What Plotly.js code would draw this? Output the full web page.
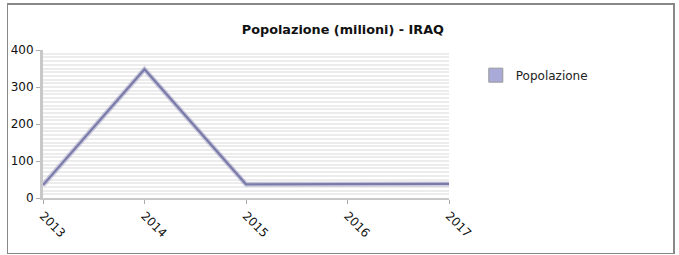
<!DOCTYPE html>
<html><head><meta charset="utf-8">
<script src="https://cdn.plot.ly/plotly-3.0.1.min.js"></script>
<style>
html,body{margin:0;padding:0;background:#fff;}
#wrap{position:relative;width:679px;height:255px;}
#chart{position:absolute;left:0;top:0;width:679px;height:255px;}
#frame{position:absolute;left:7px;top:3px;width:665px;height:248px;border:1px solid #888;border-right-width:2px;border-top-width:2px;pointer-events:none;}
</style></head>
<body><div id="wrap"><div id="chart"></div><div id="frame"></div></div>
<script>
const years = ['2013','2014','2015','2016','2017'];
const popolazione = [35, 348, 37, 37, 38];
const seriesName = 'Popolazione';
const titleText = 'Popolazione (milioni) - IRAQ';

const traces = [
  {x: years, y: popolazione, type: 'scatter', mode: 'lines', name: seriesName,
   line: {color: 'rgba(120,120,170,0.35)', width: 5}, showlegend: false, hoverinfo: 'skip'},
  {x: years, y: popolazione, type: 'scatter', mode: 'lines', name: seriesName,
   line: {color: '#7b7bab', width: 2.2}, showlegend: false},
  {x: [null], y: [null], type: 'scatter', mode: 'markers', name: seriesName,
   marker: {symbol: 'square', size: 14, color: '#aaaad8', line: {color: '#999', width: 1}}}
];

const layout = {
  width: 679, height: 255,
  margin: {l: 43, r: 230, t: 50, b: 57},
  paper_bgcolor: 'rgba(0,0,0,0)', plot_bgcolor: '#fff',
  font: {family: 'DejaVu Sans', size: 11, color: '#111'},
  title: {text: titleText, x: 0.505, xanchor: 'center', y: 0.885, yanchor: 'middle',
          font: {family: 'DejaVu Sans', size: 12.8, weight: 'bold', color: '#111'}},
  showlegend: true,
  legend: {x: 1.066, y: 0.83, xanchor: 'left', yanchor: 'middle', bgcolor: 'rgba(0,0,0,0)',
           font: {family: 'DejaVu Sans', size: 12, color: '#222'}, itemwidth: 30},
  xaxis: {type: 'category', range: [0, 4], tickangle: 45,
          showline: true, linecolor: '#c8c8c8', linewidth: 2,
          ticks: 'outside', ticklen: 4, tickcolor: '#aaa', tickwidth: 1,
          showgrid: false, zeroline: false,
          tickfont: {family: 'DejaVu Sans', size: 12, color: '#111'}},
  yaxis: {range: [0, 400], dtick: 100, tick0: 0,
          showline: true, linecolor: '#c8c8c8', linewidth: 3,
          ticks: 'outside', ticklen: 4, tickcolor: '#aaa', tickwidth: 1,
          showgrid: true, gridcolor: '#ececec', gridwidth: 2, zeroline: false,
          minor: {dtick: 10, showgrid: true, gridcolor: '#ececec', gridwidth: 2},
          tickfont: {family: 'DejaVu Sans', size: 12, color: '#111'}}
};

Plotly.newPlot('chart', traces, layout, {displayModeBar: false, staticPlot: true});
</script></body></html>
